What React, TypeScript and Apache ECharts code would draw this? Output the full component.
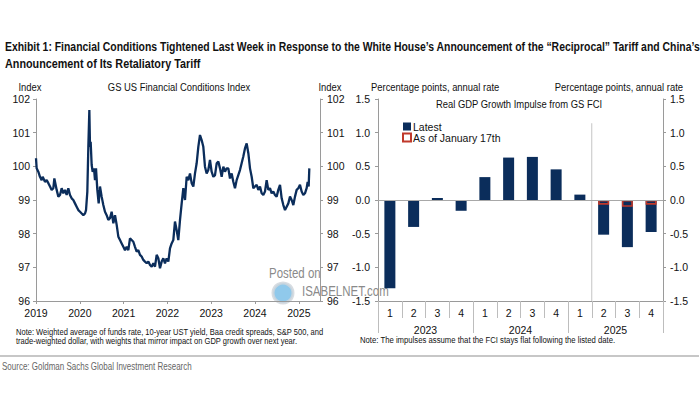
import { useEffect, useRef } from 'react';
import * as echarts from 'echarts';

// GS US Financial Conditions Index (decimal year, index level)
const fciYears = [
  2019.0, 2019.015, 2019.053, 2019.091, 2019.129, 2019.152, 2019.205, 2019.244, 2019.282, 2019.32,
  2019.358, 2019.396, 2019.419, 2019.472, 2019.51, 2019.548, 2019.586, 2019.624, 2019.662, 2019.7,
  2019.738, 2019.776, 2019.814, 2019.852, 2019.89, 2019.928, 2019.966, 2020.005, 2020.043, 2020.081,
  2020.119, 2020.142, 2020.172, 2020.195, 2020.218, 2020.233, 2020.248, 2020.271, 2020.294, 2020.324,
  2020.347, 2020.37, 2020.4, 2020.431, 2020.461, 2020.499, 2020.537, 2020.575, 2020.613, 2020.651,
  2020.689, 2020.727, 2020.766, 2020.804, 2020.842, 2020.88, 2020.918, 2020.956, 2020.994, 2021.032,
  2021.07, 2021.108, 2021.146, 2021.184, 2021.222, 2021.26, 2021.298, 2021.336, 2021.374, 2021.412,
  2021.45, 2021.488, 2021.527, 2021.565, 2021.603, 2021.641, 2021.679, 2021.717, 2021.755, 2021.793,
  2021.831, 2021.869, 2021.907, 2021.945, 2021.983, 2022.021, 2022.059, 2022.097, 2022.135, 2022.173,
  2022.211, 2022.249, 2022.288, 2022.326, 2022.364, 2022.402, 2022.44, 2022.478, 2022.516, 2022.554,
  2022.592, 2022.63, 2022.668, 2022.706, 2022.744, 2022.782, 2022.82, 2022.858, 2022.896, 2022.934,
  2022.972, 2023.01, 2023.049, 2023.087, 2023.125, 2023.163, 2023.201, 2023.239, 2023.277, 2023.315,
  2023.353, 2023.391, 2023.429, 2023.467, 2023.505, 2023.543, 2023.581, 2023.619, 2023.657, 2023.695,
  2023.733, 2023.771, 2023.81, 2023.848, 2023.886, 2023.924, 2023.962, 2024.0, 2024.038, 2024.076,
  2024.114, 2024.152, 2024.19, 2024.228, 2024.266, 2024.304, 2024.342, 2024.38, 2024.418, 2024.456,
  2024.494, 2024.532, 2024.571, 2024.609, 2024.647, 2024.685, 2024.723, 2024.761, 2024.799, 2024.837,
  2024.875, 2024.913, 2024.951, 2024.989, 2025.027, 2025.065, 2025.103, 2025.141, 2025.179, 2025.202,
  2025.225, 2025.24,
];
const fciValues = [
  100.24, 99.94, 99.84, 99.69, 99.59, 99.69, 99.54, 99.59, 99.5, 99.4,
  99.3, 99.35, 99.64, 99.3, 99.1, 99.15, 99.35, 99.2, 99.3, 99.15,
  99.35, 99.15, 99.05, 99.0, 98.9, 98.8, 98.7, 98.65, 98.6, 98.55,
  98.6, 98.7, 99.25, 100.58, 101.67, 100.58, 100.73, 100.04, 99.84, 99.94,
  99.59, 99.94, 99.3, 98.9, 99.4, 99.1, 98.85, 98.65, 98.55, 98.41,
  98.46, 98.65, 98.31, 98.55, 98.26, 97.91, 97.81, 97.71, 97.61, 97.51,
  97.61, 97.51, 97.86, 97.81, 97.76, 97.61, 97.47, 97.51, 97.37, 97.32,
  97.22, 97.17, 97.12, 97.17, 97.07, 97.02, 97.12, 97.02, 97.37, 97.27,
  96.97, 97.17, 97.27, 97.12, 97.27, 97.17, 97.56, 97.71, 97.81, 98.36,
  98.11, 97.81, 98.41, 98.9, 99.35, 99.0, 99.69, 99.59, 99.79, 99.5,
  99.4, 99.79, 100.09, 100.58, 100.93, 100.78, 100.58, 99.99, 99.79, 99.89,
  100.19, 99.84, 99.69, 99.74, 100.09, 100.14, 99.94, 99.69, 99.99, 99.84,
  99.94, 99.94, 99.64, 99.79, 99.54, 99.35, 99.59, 99.74, 99.89, 100.09,
  100.29, 100.53, 100.68, 100.39, 99.94, 99.69, 99.35, 99.4, 99.45, 99.3,
  99.4, 99.2, 99.15, 99.25, 99.59, 99.3, 99.35, 99.2, 99.25, 99.15,
  99.1, 99.3, 99.45, 99.05, 98.85, 98.7, 98.8, 98.9, 99.1, 99.0,
  98.85, 99.1, 99.3, 99.35, 99.45, 99.25, 99.15, 99.2, 99.35, 99.54,
  99.4, 99.94,
];

// Real GDP growth impulse from GS FCI (percentage points, annual rate)
const quarterLabels = ['1', '2', '3', '4', '1', '2', '3', '4', '1', '2', '3', '4'];
const yearLabels = ['2023', '2024', '2025'];
const latestValues = [-1.31, -0.4, 0.03, -0.16, 0.34, 0.63, 0.64, 0.455, 0.08, -0.515, -0.7, -0.475];
const jan17Values = [null, null, null, null, null, null, null, null, null, -0.07, -0.1, -0.07];
const dividerAt = 9; // boundary between 2025 Q1 and Q2 (in category units)

const FONT = '"Liberation Sans", Arial, sans-serif';
const NAVY = '#0b2d5b';
const AXIS = '#9a9a9a';
const SQ = 0.82; // horizontal squeeze to mimic the narrow face of the original

export default function App() {
  const ref = useRef<HTMLDivElement>(null);

  useEffect(() => {
    if (!ref.current) return;
    const chart = echarts.init(ref.current, undefined, { renderer: 'svg' });
    const lbl = { fontFamily: FONT, fontSize: 10.5, color: '#111' };
    const axisLine = { show: true, onZero: false, lineStyle: { color: AXIS, width: 1 } };

    const txt = (text: string, x: number, y: number, size: number, extra: any = {}) => ({
      type: 'text',
      silent: true,
      x, y,
      scaleX: extra.scale ?? SQ,
      style: {
        text, x: 0, y: 0,
        font: `${extra.weight || 'normal'} ${size}px ${FONT}`,
        fill: extra.fill || '#111',
        textAlign: extra.align || 'left',
        textVerticalAlign: 'middle',
      },
    });

    chart.setOption({
      animation: false,
      backgroundColor: '#ffffff',
      legend: {
        left: 397,
        top: 116,
        orient: 'vertical',
        icon: 'rect',
        itemWidth: 8,
        itemHeight: 8,
        itemGap: 0,
        textStyle: { fontFamily: FONT, fontSize: 10.5, color: '#111', padding: [0, 0, 0, -3] },
        data: ['Latest', 'As of January 17th'],
      },
      grid: [
        { left: 36, right: 380, top: 99, bottom: 109 },
        { left: 378, right: 37, top: 99, bottom: 109 },
      ],
      xAxis: [
        {
          gridIndex: 0, type: 'value', min: 2019, max: 2025.484, interval: 1,
          axisLine, splitLine: { show: false },
          axisTick: { show: true, length: 3, lineStyle: { color: AXIS } },
          axisLabel: { ...lbl, margin: 6, showMaxLabel: false,
            formatter: (v: number) => (Number.isInteger(v) ? String(v) : '') },
        },
        {
          gridIndex: 1, type: 'category', data: quarterLabels, position: 'bottom',
          axisLine,
          axisTick: { show: true, length: 17, lineStyle: { color: '#bdbdbd' } },
          axisLabel: { ...lbl, margin: 6, interval: 0 },
        },
        {
          gridIndex: 1, type: 'category', data: yearLabels, position: 'bottom',
          axisLine: { show: false, onZero: false },
          axisTick: { show: true, length: 32, lineStyle: { color: '#bdbdbd' } },
          axisLabel: { ...lbl, margin: 23, interval: 0 },
        },
        { gridIndex: 1, type: 'value', min: 0, max: 12, show: false },
      ],
      yAxis: [
        {
          gridIndex: 0, type: 'value', min: 96, max: 102, interval: 1, position: 'left',
          axisLine, splitLine: { show: false },
          axisTick: { show: true, length: 3, lineStyle: { color: AXIS } },
          axisLabel: { ...lbl, margin: 6 },
        },
        {
          gridIndex: 0, type: 'value', min: 96, max: 102, interval: 1, position: 'right',
          axisLine, splitLine: { show: false },
          axisTick: { show: true, length: 3, lineStyle: { color: AXIS } },
          axisLabel: { ...lbl, margin: 7 },
        },
        {
          gridIndex: 1, type: 'value', min: -1.5, max: 1.5, interval: 0.5, position: 'left',
          axisLine, splitLine: { show: false },
          axisTick: { show: true, length: 3, lineStyle: { color: AXIS } },
          axisLabel: { ...lbl, margin: 8, formatter: (v: number) => v.toFixed(1) },
        },
        {
          gridIndex: 1, type: 'value', min: -1.5, max: 1.5, interval: 0.5, position: 'right',
          axisLine, splitLine: { show: false },
          axisTick: { show: true, length: 3, lineStyle: { color: AXIS } },
          axisLabel: { ...lbl, margin: 7, formatter: (v: number) => v.toFixed(1) },
        },
      ],
      series: [
        {
          name: 'GS US FCI',
          type: 'line',
          xAxisIndex: 0, yAxisIndex: 0,
          data: fciYears.map((y, i) => [y, fciValues[i]]),
          showSymbol: false,
          lineStyle: { color: NAVY, width: 2.3 },
          itemStyle: { color: NAVY },
        },
        {
          name: 'Latest',
          type: 'bar',
          xAxisIndex: 1, yAxisIndex: 2,
          data: latestValues,
          barWidth: 11,
          itemStyle: { color: NAVY },
          markLine: {
            silent: true, symbol: 'none', label: { show: false },
            lineStyle: { color: '#a8a8a8', width: 1, type: 'solid' },
            data: [{ yAxis: 0 }],
          },
        },
        {
          name: 'As of January 17th',
          type: 'bar',
          xAxisIndex: 1, yAxisIndex: 2,
          data: jan17Values,
          barWidth: 11,
          barGap: '-100%',
          itemStyle: { color: 'rgba(255,255,255,0)', borderColor: '#c0392b', borderWidth: 1.6 },
        },
        {
          name: 'divider',
          type: 'line',
          xAxisIndex: 3, yAxisIndex: 2,
          data: [[dividerAt, -1.5], [dividerAt, 1.14]],
          showSymbol: false,
          silent: true,
          lineStyle: { color: '#c4c4c4', width: 1 },
        },
      ],
      graphic: [
        txt('Exhibit 1: Financial Conditions Tightened Last Week in Response to the White House\u2019s Announcement of the \u201cReciprocal\u201d Tariff and China\u2019s', 5, 47, 13.5, { weight: 'bold', scale: 0.772 }),
        txt('Announcement of Its Retaliatory Tariff', 5, 64, 13.5, { weight: 'bold', scale: 0.8 }),
        txt('Index', 30, 87, 11.5, { align: 'center' }),
        txt('GS US Financial Conditions Index', 179, 87, 11.5, { align: 'center' }),
        txt('Index', 330, 87, 11.5, { align: 'center' }),
        txt('Percentage points, annual rate', 371, 87, 11.5),
        txt('Percentage points, annual rate', 683, 87, 11.5, { align: 'right' }),
        txt('Real GDP Growth Impulse from GS FCI', 519, 104, 11.5, { align: 'center' }),
        txt('Note: Weighted average of funds rate, 10-year UST yield, Baa credit spreads, S&P 500, and', 16, 332, 9.2),
        txt('trade-weighted dollar, with weights that mirror impact on GDP growth over next year.', 16, 341, 9.2),
        txt('Note: The impulses assume that the FCI stays flat following the listed date.', 360, 340, 9.2, { scale: 0.84 }),
        {
          type: 'line', silent: true,
          shape: { x1: 0, y1: 356, x2: 699, y2: 356 },
          style: { stroke: '#b5b5b5', lineWidth: 1.5 },
        },
        txt('Source: Goldman Sachs Global Investment Research', 2, 367, 10, { fill: '#666', scale: 0.8 }),
        txt('Posted on', 269, 273, 14, { fill: '#8a8a8a' }),
        {
          type: 'circle', silent: true,
          shape: { cx: 283, cy: 293, r: 10 },
          style: { fill: '#7cc0e8', stroke: '#d0d6dc', lineWidth: 3, opacity: 0.85 },
        },
        txt('ISABELNET.com', 302, 291, 14, { fill: '#8a8a8a' }),
      ],
    });

    return () => chart.dispose();
  }, []);

  return (
    <div
      ref={ref}
      style={{ position: 'fixed', left: 0, top: 0, width: 700, height: 410, background: '#fff' }}
    />
  );
}
